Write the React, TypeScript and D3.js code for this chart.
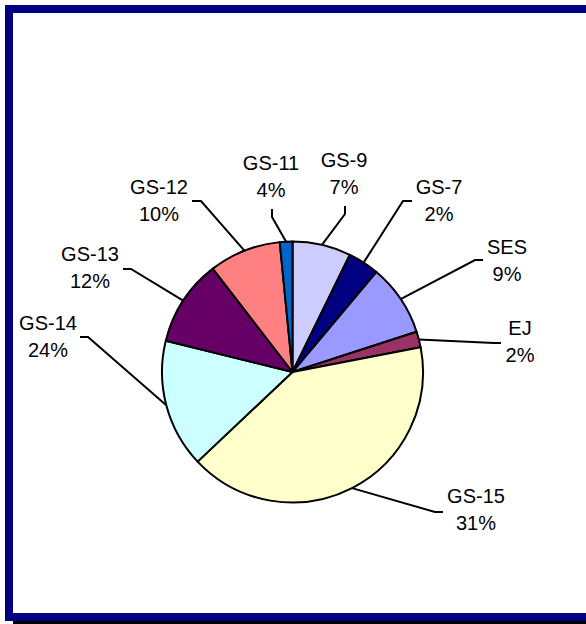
import React from "react";
import * as d3 from "d3";

// Slice order clockwise from 12 o'clock
const categories = ["GS-9", "GS-7", "SES", "EJ", "GS-15", "GS-14", "GS-13", "GS-12", "GS-11"];
// Slice sizes (percent of circle)
const sliceShares = [7.25, 3.86, 8.9, 1.97, 41.0, 15.9, 10.7, 8.9, 1.56];
// Percent labels printed next to each slice
const labelPercents = ["7%", "2%", "9%", "2%", "31%", "24%", "12%", "10%", "4%"];
const sliceColors = ["#CCCCFF", "#000080", "#9999FF", "#993366", "#FFFFCC", "#CCFFFF", "#660066", "#FF8080", "#0066CC"];

// Label layout: centre x, first baseline, leader elbow and leader end
const labelLayout = [
  { cx: 344, by: 167, elbow: [345, 214], end: [345, 206] },
  { cx: 439, by: 194, elbow: [403, 201], end: [412, 201] },
  { cx: 507, by: 254, elbow: [475, 260], end: [483, 260] },
  { cx: 520, by: 335, elbow: [494, 343], end: [501, 343] },
  { cx: 476, by: 503, elbow: [435, 512], end: [443, 512] },
  { cx: 48, by: 330, elbow: [88, 337], end: [80, 337] },
  { cx: 90, by: 261, elbow: [131, 269], end: [123, 269] },
  { cx: 159, by: 194, elbow: [201, 201], end: [192, 201] },
  { cx: 271, by: 170, elbow: [272, 217], end: [272, 209] },
];

const W = 586;
const H = 624;
const CX = 292.5;
const CY = 372;
const R = 130.5;

export default function App() {
  const data = categories.map((c, i) => ({ name: c, value: sliceShares[i], label: labelPercents[i], color: sliceColors[i], i }));
  const pie = d3.pie<any>().sort(null).value((d) => d.value).startAngle(0).endAngle(2 * Math.PI);
  const arcs = pie(data);
  const arcGen = d3.arc<any>().innerRadius(0).outerRadius(R);

  return (
    <svg width={W} height={H} style={{ position: "absolute", left: 0, top: 0 }} fontFamily="'Liberation Sans', Arial, sans-serif">
      <rect x={0} y={0} width={W} height={H} fill="#ffffff" />
      {/* shadow */}
      <rect x={13} y={621} width={W} height={10} fill="#000000" />
      {/* frame */}
      <rect x={9} y={9} width={W + 10} height={608} fill="#ffffff" stroke="#000080" strokeWidth={8} />
      <g transform={`translate(${CX},${CY})`}>
        {arcs.map((a, i) => (
          <path key={i} d={arcGen(a) as string} fill={a.data.color} stroke="#000" strokeWidth={2} strokeLinejoin="round" />
        ))}
      </g>
      {arcs.map((a, i) => {
        const mid = (a.startAngle + a.endAngle) / 2;
        const sx = CX + R * Math.sin(mid);
        const sy = CY - R * Math.cos(mid);
        const L = labelLayout[i];
        const pts = [[sx, sy], L.elbow, L.end];
        const line = d3.line()(pts as [number, number][]) as string;
        return (
          <g key={"l" + i}>
            <path d={line} fill="none" stroke="#000" strokeWidth={2} />
            <text x={L.cx} y={L.by} textAnchor="middle" fontSize={20} fill="#000">{a.data.name}</text>
            <text x={L.cx} y={L.by + 27} textAnchor="middle" fontSize={20} fill="#000">{a.data.label}</text>
          </g>
        );
      })}
    </svg>
  );
}
